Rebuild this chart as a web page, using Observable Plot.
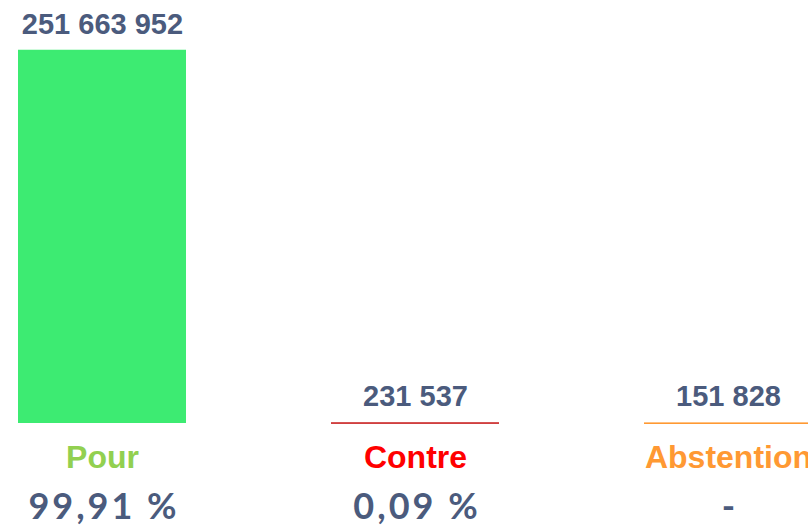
<!DOCTYPE html>
<html>
<head>
<meta charset="utf-8">
<script src="https://cdn.jsdelivr.net/npm/d3@7"></script>
<script src="https://cdn.jsdelivr.net/npm/@observablehq/plot@0.6"></script>
<style>
  html, body { margin: 0; padding: 0; background: #fff; overflow: hidden; }
</style>
</head>
<body>
<div id="chart"></div>
<script>
const categories = ["Pour", "Contre", "Abstention"];
const votes = [251663952, 231537, 151828];
const percents = ["99,91 %", "0,09 %", "-"];
const barColors = ["#3DEB72", "#C00000", "#FF9933"];
const labelColors = ["#92D050", "#FF0000", "#FF9933"];

const data = categories.map((c, i) => ({category: c, votes: votes[i], pct: percents[i]}));
const fr = d3.formatLocale({decimal: ",", thousands: " ", grouping: [3], currency: ["", ""]});
const fmt = fr.format(",d");
const numColor = "#4B5B7D";

const chart = Plot.plot({
  width: 808,
  height: 525,
  marginTop: 50,
  marginBottom: 102,
  marginLeft: 0,
  marginRight: 0,
  style: {background: "#fff", overflow: "visible"},
  x: {domain: categories, range: [-1, 830], paddingInner: 0.464, paddingOuter: 0.0574, axis: null},
  y: {domain: [0, d3.max(votes)], axis: null},
  color: {domain: categories, range: barColors},
  marks: [
    Plot.barY(data, {x: "category", y: "votes", fill: "category"}),
    Plot.tickY(data, {x: "category", y: "votes", stroke: "category", strokeWidth: 1.3}),
    Plot.text(data, {
      x: "category", y: "votes", text: d => fmt(d.votes),
      lineAnchor: "bottom", dy: -17,
      fill: numColor, fontSize: 29, fontWeight: "bold", fontFamily: "Liberation Sans, Arial, sans-serif"
    }),
    Plot.text(data, {
      x: "category", frameAnchor: "bottom", text: "category",
      lineAnchor: "bottom", dy: 44,
      fill: (d, i) => labelColors[i], fontSize: 32, fontWeight: "bold", fontFamily: "Liberation Sans, Arial, sans-serif"
    }),
    Plot.text(data, {
      x: "category", frameAnchor: "bottom", text: "pct",
      lineAnchor: "bottom", dy: 95,
      fill: numColor, fontSize: 36, fontWeight: "bold", fontFamily: "Lato, sans-serif"
    })
  ]
});
const textGroups = chart.querySelectorAll('g[aria-label="text"]');
if (textGroups[2]) {
  textGroups[2].setAttribute("letter-spacing", "3");
  textGroups[2].setAttribute("transform", (textGroups[2].getAttribute("transform") || "") + " translate(1.5,0)");
}
document.getElementById("chart").appendChild(chart);
</script>
</body>
</html>
